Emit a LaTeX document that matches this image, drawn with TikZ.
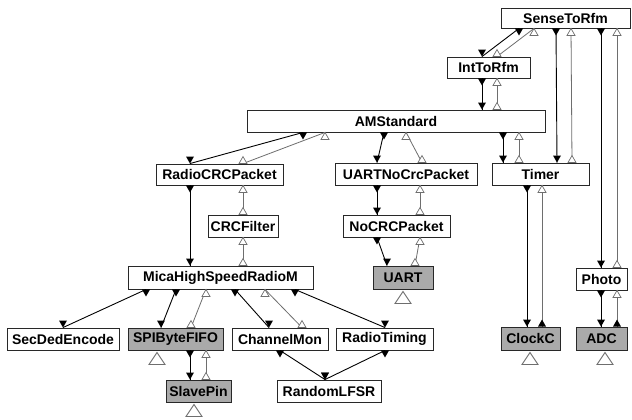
\documentclass[tikz,border=0pt]{standalone}
\usepackage{fontspec}
\setmainfont{Liberation Sans}
\definecolor{boxgray}{RGB}{170,170,170}
\definecolor{edgec}{RGB}{40,40,40}
\definecolor{holc}{RGB}{110,110,110}
% filled connector: down triangles at both ends
\newcommand\fconn[2]{%
  \draw[fline] (#1) -- (#2);
  \fill[fmark] (#1) ++(-4,0) -- ++(8,0) -- ++(-4,7) -- cycle;
  \fill[fmark] (#2) -- ++(-4,-7) -- ++(8,0) -- cycle;}
% hollow connector: open up triangles at both ends
\newcommand\hconn[2]{%
  \draw[hline] (#1) -- (#2);
  \filldraw[hmark] (#1) -- ++(-4,7) -- ++(8,0) -- cycle;
  \filldraw[hmark] (#2) ++(-4,0) -- ++(8,0) -- ++(-4,-7) -- cycle;}
% hollow connector ending in a filled up triangle
\newcommand\hfconn[2]{%
  \draw[hline] (#1) -- (#2);
  \filldraw[hmark] (#1) -- ++(-4,7) -- ++(8,0) -- cycle;
  \fill[fmark] (#2) ++(-4,0) -- ++(8,0) -- ++(-4,-7) -- cycle;}
\begin{document}
\begin{tikzpicture}[x=1pt,y=-1pt,
  box/.style={draw=edgec,line width=0.9pt,fill=white,inner sep=0pt,
    font=\fontsize{14}{15}\selectfont\bfseries,text=black},
  gbox/.style={box,fill=boxgray},
  fline/.style={draw=black,line width=0.9pt},
  hline/.style={draw=holc,line width=0.8pt},
  fmark/.style={fill=black},
  hmark/.style={draw=holc,line width=0.7pt,fill=white,line join=miter},
  stub/.style={draw=holc,line width=0.9pt,fill=white}
]
\useasboundingbox[fill=white] (0,0) rectangle (632,420);

% nodes
\node[box,minimum width=129pt,minimum height=20pt] (sense) at (565.5,18) {SenseToRfm};
\node[box,minimum width=83pt,minimum height=21pt] (int) at (488.5,67.5) {IntToRfm};
\node[box,minimum width=298pt,minimum height=22pt] (am) at (396,121) {AMStandard};
\node[box,minimum width=127pt,minimum height=21pt] (radio) at (219.5,174.5) {RadioCRCPacket};
\node[box,minimum width=142pt,minimum height=22pt] (uartnc) at (406,174) {UARTNoCrcPacket};
\node[box,minimum width=97pt,minimum height=22pt] (timer) at (540.5,174) {Timer};
\node[box,minimum width=70pt,minimum height=22pt] (crc) at (243,226) {CRCFilter};
\node[box,minimum width=107pt,minimum height=22pt] (nocrc) at (396.5,226) {NoCRCPacket};
\node[box,minimum width=185pt,minimum height=23pt] (mica) at (220.5,277.5) {MicaHighSpeedRadioM};
\node[gbox,minimum width=60pt,minimum height=23pt] (uart) at (403,277.5) {UART};
\node[box,minimum width=51pt,minimum height=22pt] (photo) at (601.5,279) {Photo};
\node[box,minimum width=112pt,minimum height=22pt] (secded) at (63,339) {SecDedEncode};
\node[gbox,minimum width=95pt,minimum height=22pt] (spi) at (175.5,339) {SPIByteFIFO};
\node[box,minimum width=96pt,minimum height=22pt] (chmon) at (280,339) {ChannelMon};
\node[box,minimum width=97pt,minimum height=22pt] (rtiming) at (384.5,339) {RadioTiming};
\node[gbox,minimum width=59pt,minimum height=23pt] (clockc) at (530.5,338.5) {ClockC};
\node[gbox,minimum width=51pt,minimum height=23pt] (adc) at (601.5,338.5) {ADC};
\node[gbox,minimum width=65pt,minimum height=22pt] (slave) at (198.5,391) {SlavePin};
\node[box,minimum width=104pt,minimum height=22pt] (random) at (329,391) {RandomLFSR};

% connectors
\fconn{sense.south -| 519,0}{int.north -| 482,0}
\hconn{sense.south -| 534,0}{int.north -| 497,0}
\fconn{sense.south -| 556,0}{timer.north -| 557,0}
\hconn{sense.south -| 571,0}{timer.north -| 572,0}
\fconn{sense.south -| 601,0}{photo.north -| 601,0}
\hconn{sense.south -| 617,0}{photo.north -| 617,0}

\fconn{int.south -| 482,0}{am.north -| 482,0}
\hconn{int.south -| 497,0}{am.north -| 497,0}

\fconn{am.south -| 303,0}{radio.north -| 190,0}
\hconn{am.south -| 325,0}{radio.north -| 243,0}
\fconn{am.south -| 384,0}{uartnc.north -| 377,0}
\hconn{am.south -| 406,0}{uartnc.north -| 422,0}
\fconn{am.south -| 503,0}{timer.north -| 503,0}
\hconn{am.south -| 519,0}{timer.north -| 519,0}

\fconn{radio.south -| 190,0}{mica.north -| 190,0}
\hconn{radio.south -| 243,0}{crc.north -| 243,0}
\hconn{crc.south -| 243,0}{mica.north -| 243,0}

\fconn{uartnc.south -| 377,0}{nocrc.north -| 377,0}
\hconn{uartnc.south -| 420,0}{nocrc.north -| 420,0}
\fconn{nocrc.south -| 377,0}{uart.north -| 387,0}
\hconn{nocrc.south -| 420,0}{uart.north -| 415,0}

\fconn{mica.south -| 146,0}{secded.north -| 63,0}
\fconn{mica.south -| 176,0}{spi.north -| 161,0}
\hconn{mica.south -| 206,0}{spi.north -| 191,0}
\fconn{mica.south -| 235,0}{chmon.north -| 269,0}
\hconn{mica.south -| 265,0}{chmon.north -| 302,0}
\fconn{mica.south -| 295,0}{rtiming.north -| 385,0}

\fconn{spi.south -| 190,0}{slave.north -| 190,0}
\hconn{spi.south -| 206,0}{slave.north -| 206,0}

\fconn{chmon.south -| 280,0}{random.north -| 325,0}
\fconn{rtiming.south -| 385,0}{random.north -| 325,0}

\fconn{timer.south -| 527,0}{clockc.north -| 527,0}
\hfconn{timer.south -| 542,0}{clockc.north -| 542,0}
\fconn{photo.south -| 601,0}{adc.north -| 601,0}
\hfconn{photo.south -| 617,0}{adc.north -| 617,0}

% interface stubs under gray boxes
\draw[stub] (uart.south -| 403,0) ++(0,2) -- ++(-8,12) -- ++(16,0) -- cycle;
\draw[stub] (spi.south -| 157,0) ++(0,2) -- ++(-8,12) -- ++(16,0) -- cycle;
\draw[stub] (slave.south -| 194,0) ++(0,2) -- ++(-8,12) -- ++(16,0) -- cycle;
\draw[stub] (clockc.south -| 530,0) ++(0,2) -- ++(-8,12) -- ++(16,0) -- cycle;
\draw[stub] (adc.south -| 605,0) ++(0,2) -- ++(-8,12) -- ++(16,0) -- cycle;
\end{tikzpicture}
\end{document}
